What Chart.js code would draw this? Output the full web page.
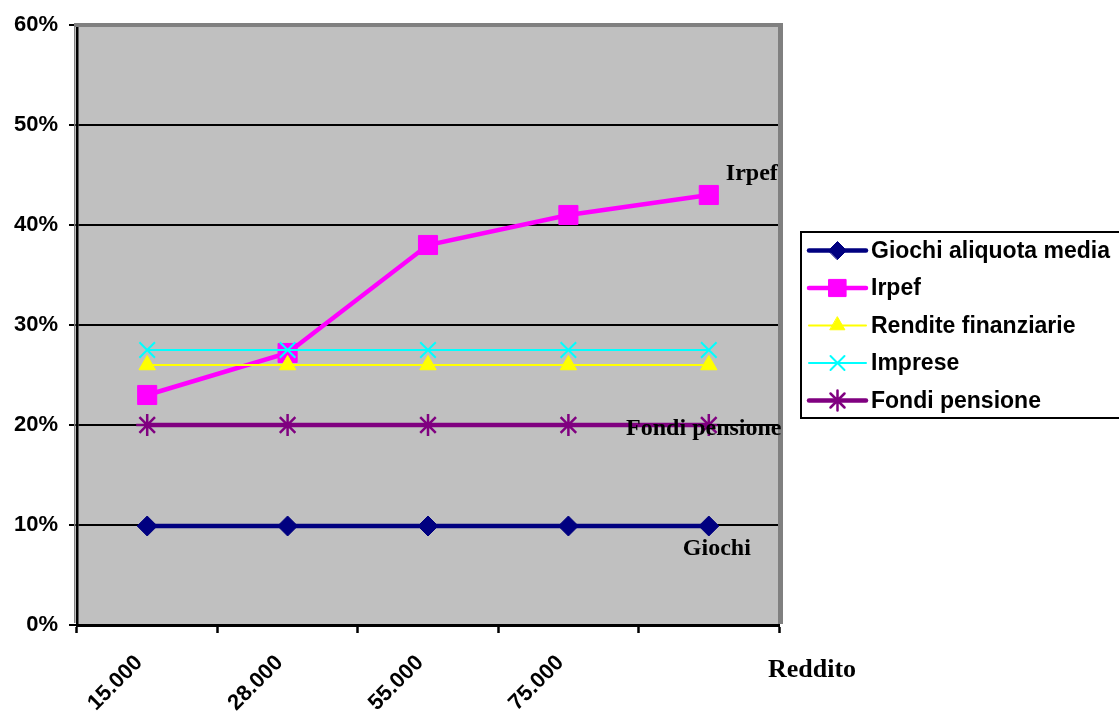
<!DOCTYPE html>
<html>
<head>
<meta charset="utf-8">
<script src="https://cdn.jsdelivr.net/npm/chart.js@4"></script>
<style>
  html, body { margin: 0; padding: 0; background: #ffffff; }
  canvas { display: block; }
</style>
</head>
<body>
<canvas id="c" width="1119" height="718"></canvas>
<script>
// Reddito brackets (x axis) and tax rates in percent for each regime
const categories = ['15.000', '28.000', '55.000', '75.000', ''];
const seriesNames = ['Giochi aliquota media', 'Irpef', 'Rendite finanziarie', 'Imprese', 'Fondi pensione'];
const giochi  = [9.9, 9.9, 9.9, 9.9, 9.9];
const irpef   = [23, 27.2, 38, 41, 43];
const rendite = [26, 26, 26, 26, 26];
const imprese = [27.5, 27.5, 27.5, 27.5, 27.5];
const fondi   = [20, 20, 20, 20, 20];
const yMin = 0, yMax = 60, yStep = 10;
const xAxisTitle = 'Reddito';
// end-of-line labels: [series index, text]
const endLabels = [[1, 'Irpef'], [4, 'Fondi pensione'], [0, 'Giochi']];

const SANS = '"Liberation Sans", Arial, sans-serif';
const SERIF = '"Liberation Serif", "Times New Roman", serif';

function series(i, data, color, width, style, radius, pbw, order) {
  return {
    label: seriesNames[i],
    data: data,
    borderColor: color,
    backgroundColor: color,
    borderWidth: width,
    pointStyle: style,
    pointRadius: radius,
    pointHoverRadius: radius,
    pointBorderWidth: pbw,
    pointBorderColor: color,
    pointBackgroundColor: color,
    tension: 0,
    order: order
  };
}

const datasets = [
  series(0, giochi,  '#000080', 4.5, 'rectRot',  10,  1, 5),
  series(1, irpef,   '#FF00FF', 4.5, 'rect',     13.5, 1, 4),
  series(2, rendite, '#FFFF00', 2,   'triangle', 9.5, 1, 3),
  series(3, imprese, '#00FFFF', 2,   'crossRot', 11,  2, 2),
  series(4, fondi,   '#800080', 4.5, 'star',     11,  2.5, 1)
];

// gray plot background and the sunken top/right frame
const plotFrame = {
  id: 'plotFrame',
  beforeDraw(chart) {
    const a = chart.chartArea, ctx = chart.ctx;
    ctx.save();
    ctx.fillStyle = '#C0C0C0';
    ctx.fillRect(a.left, a.top, a.right - a.left, a.bottom - a.top);
    ctx.restore();
  },
  beforeDatasetsDraw(chart) {
    const a = chart.chartArea, ctx = chart.ctx;
    ctx.save();
    ctx.fillStyle = '#808080';
    ctx.fillRect(a.left - 3, a.top - 2, a.right - a.left + 6, 4);
    ctx.fillRect(a.right - 1, a.top - 2, 5, a.bottom - a.top + 1);
    ctx.fillRect(a.left - 3, a.top - 2, 1.5, a.bottom - a.top);
    ctx.restore();
  },
  afterDatasetsDraw(chart) {
    const ctx = chart.ctx;
    ctx.save();
    ctx.fillStyle = '#000';
    ctx.textBaseline = 'middle';
    endLabels.forEach(([i, text]) => {
      const meta = chart.getDatasetMeta(i);
      const p = meta.data[meta.data.length - 1];
      ctx.font = 'bold 24px ' + SERIF;
      if (i === 1) { ctx.textAlign = 'left'; ctx.fillText(text, p.x + 17, p.y - 21); }
      else if (i === 4) { ctx.textAlign = 'center'; ctx.fillText(text, p.x - 5, p.y + 4); }
      else { ctx.textAlign = 'center'; ctx.fillText(text, p.x + 8, p.y + 23); }
    });
    // axis title
    const a = chart.chartArea;
    ctx.font = 'bold 26px ' + SERIF;
    ctx.textAlign = 'left';
    ctx.fillText(xAxisTitle, a.right - 11, a.bottom + 45);
    ctx.restore();
  }
};

function marker(ctx, style, r, x, y, color, bw) {
  if (Chart.helpers && Chart.helpers.drawPoint) {
    ctx.fillStyle = color; ctx.strokeStyle = color; ctx.lineWidth = bw;
    Chart.helpers.drawPoint(ctx, { pointStyle: style, radius: r, rotation: 0, borderWidth: bw }, x, y);
  }
}

// boxed legend at the right with line + marker samples
const boxLegend = {
  id: 'boxLegend',
  afterDraw(chart) {
    const ctx = chart.ctx;
    const left = 801, top = 232, bottom = 418;
    ctx.save();
    ctx.strokeStyle = '#000';
    ctx.lineWidth = 2;
    ctx.strokeRect(left, top, 1119 - left + 10, bottom - top);
    ctx.font = 'bold 23px ' + SANS;
    ctx.textBaseline = 'middle';
    ctx.textAlign = 'left';
    chart.data.datasets.forEach((ds, i) => {
      const y = 250.5 + i * 37.5;
      ctx.strokeStyle = ds.borderColor;
      ctx.lineWidth = ds.borderWidth;
      ctx.lineCap = 'round';
      ctx.beginPath();
      ctx.moveTo(809, y);
      ctx.lineTo(866, y);
      ctx.stroke();
      marker(ctx, ds.pointStyle, ds.pointRadius * 0.9, 837.5, y, ds.borderColor, ds.pointBorderWidth);
      ctx.fillStyle = '#000';
      ctx.fillText(ds.label, 871, y + 1);
    });
    ctx.restore();
  }
};

new Chart(document.getElementById('c'), {
  type: 'line',
  data: { labels: categories, datasets: datasets },
  options: {
    responsive: false,
    animation: false,
    events: [],
    layout: { padding: { top: 25, right: 340, left: 0, bottom: 0 } },
    plugins: { legend: { display: false }, tooltip: { enabled: false } },
    scales: {
      x: {
        offset: true,
        grid: {
          offset: true,
          drawOnChartArea: false,
          drawTicks: true,
          tickLength: 8,
          tickColor: '#000',
          tickWidth: 2.5
        },
        border: { display: true, color: '#000', width: 3 },
        ticks: {
          autoSkip: false,
          maxRotation: 45,
          minRotation: 45,
          padding: 17,
          labelOffset: -8,
          color: '#000',
          font: { family: SANS, size: 22, weight: 'bold' }
        },
        afterFit(scale) { scale.height = 93; }
      },
      y: {
        min: yMin,
        max: yMax,
        grid: {
          color: (c) => (c.tick && c.tick.value === yMax) ? 'rgba(0,0,0,0)' : '#000',
          lineWidth: 2,
          tickLength: 8,
          tickColor: '#000',
          tickWidth: 2
        },
        border: { display: true, color: '#000', width: 2.5 },
        ticks: {
          stepSize: yStep,
          padding: 11,
          color: '#000',
          font: { family: SANS, size: 22, weight: 'bold' },
          callback: (v) => v + '%'
        },
        afterFit(scale) { scale.width = 77; }
      }
    }
  },
  plugins: [plotFrame, boxLegend]
});
</script>
</body>
</html>
